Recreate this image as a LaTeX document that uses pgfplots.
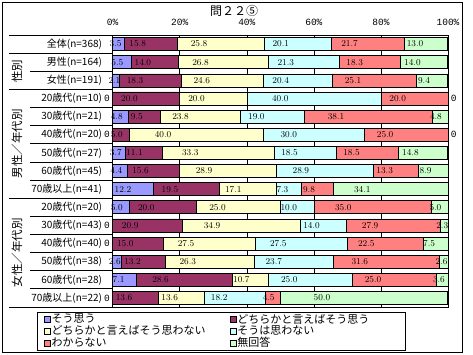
\documentclass[border=0pt]{standalone}
\usepackage{pgfplots}
\pgfplotsset{compat=1.18}
\usepackage{fontspec}
\setmainfont{Noto Sans CJK JP}
\newfontfamily\mono{Liberation Mono}
\definecolor{c1}{HTML}{9999FF}
\definecolor{c2}{HTML}{993366}
\definecolor{c3}{HTML}{FFFFCC}
\definecolor{c4}{HTML}{CCFFFF}
\definecolor{c5}{HTML}{FF8080}
\definecolor{c6}{HTML}{CCFFCC}
\tikzset{zl/.style={inner sep=0pt, font=\mono\fontsize{9.5}{9.5}\selectfont}}
\begin{document}
\begin{tikzpicture}
\path[fill=white] (0pt,0pt) rectangle (473pt,-354pt);
\draw[line width=1pt] (2pt,-2pt) rectangle (462pt,-352pt);
\node[font=\fontsize{12}{12}\selectfont] at (234pt,-11pt) {問２２⑤};
\begin{axis}[
  at={(112.7pt,-307pt)}, anchor=south west,
  scale only axis, width=335.3pt, height=272pt,
  xbar stacked, bar width=13pt,
  xmin=0, xmax=100, ymin=0.5, ymax=15.5, y dir=reverse,
  ytick={1,...,15},
  yticklabels={全体(n=368),男性(n=164),女性(n=191),20歳代(n=10),30歳代(n=21),40歳代(n=20),50歳代(n=27),60歳代(n=45),70歳以上(n=41),20歳代(n=20),30歳代(n=43),40歳代(n=40),50歳代(n=38),60歳代(n=28),70歳以上(n=22)},
  yticklabel style={font=\fontsize{10}{10}\selectfont, anchor=east, inner sep=0pt, xshift=-10.5pt},
  xtick={0,20,40,60,80,100},
  xticklabels={0\%,20\%,40\%,60\%,80\%,100\%},
  xticklabel pos=upper,
  xticklabel style={font=\mono\fontsize{9.5}{9.5}\selectfont, anchor=base, inner sep=0pt, yshift=9.5pt},
  major tick length=0pt,
  xmajorgrids, grid style={black, line width=0.6pt},
  axis line style={black, line width=0.8pt},
  clip=false,
  visualization depends on=rawx \as \rawx,
  nodes near coords={\pgfmathprintnumber[fixed,fixed zerofill,precision=1]{\rawx}},
  every node near coord/.append style={anchor=center, inner sep=0pt, font=\mono\fontsize{9.5}{9.5}\selectfont, text=black, shift={(axis direction cs:-\rawx/4,0)}},
  legend columns=2,
  legend cell align=left,
  legend style={at={(-0.2258,-0.0184)}, anchor=north west, draw=black, line width=0.8pt, inner xsep=7pt, inner ysep=1pt, row sep=0pt, nodes={inner sep=0.6pt}, font=\fontsize{11}{11.5}\selectfont},
  legend image code/.code={\draw[#1,draw=black,line width=0.6pt] (0pt,-3pt) rectangle (6pt,3pt);},
]
\addplot[fill=c1,draw=black,line width=0.6pt] coordinates {(3.5,1) (5.5,2) (2.1,3) (0.0,4) (4.8,5) (0.0,6) (3.7,7) (4.4,8) (12.2,9) (5.0,10) (0.0,11) (0.0,12) (2.6,13) (7.1,14) (0.0,15)};
\addlegendentry{\makebox[178pt][l]{そう思う}}
\addplot[fill=c2,draw=black,line width=0.6pt] coordinates {(15.8,1) (14.0,2) (18.3,3) (20.0,4) (9.5,5) (5.0,6) (11.1,7) (15.6,8) (19.5,9) (20.0,10) (20.9,11) (15.0,12) (13.2,13) (28.6,14) (13.6,15)};
\addlegendentry{\makebox[160pt][l]{どちらかと言えばそう思う}}
\addplot[fill=c3,draw=black,line width=0.6pt] coordinates {(25.8,1) (26.8,2) (24.6,3) (20.0,4) (23.8,5) (40.0,6) (33.3,7) (28.9,8) (17.1,9) (25.0,10) (34.9,11) (27.5,12) (26.3,13) (10.7,14) (13.6,15)};
\addlegendentry{\makebox[178pt][l]{どちらかと言えばそう思わない}}
\addplot[fill=c4,draw=black,line width=0.6pt] coordinates {(20.1,1) (21.3,2) (20.4,3) (40.0,4) (19.0,5) (30.0,6) (18.5,7) (28.9,8) (7.3,9) (10.0,10) (14.0,11) (27.5,12) (23.7,13) (25.0,14) (18.2,15)};
\addlegendentry{\makebox[160pt][l]{そうは思わない}}
\addplot[fill=c5,draw=black,line width=0.6pt] coordinates {(21.7,1) (18.3,2) (25.1,3) (20.0,4) (38.1,5) (25.0,6) (18.5,7) (13.3,8) (9.8,9) (35.0,10) (27.9,11) (22.5,12) (31.6,13) (25.0,14) (4.5,15)};
\addlegendentry{\makebox[178pt][l]{わからない}}
\addplot[fill=c6,draw=black,line width=0.6pt] coordinates {(13.0,1) (14.0,2) (9.4,3) (0.0,4) (4.8,5) (0.0,6) (14.8,7) (8.9,8) (34.1,9) (5.0,10) (2.3,11) (7.5,12) (2.6,13) (3.6,14) (50.0,15)};
\addlegendentry{\makebox[160pt][l]{無回答}}
\node[zl] at (axis cs:0,4) {0.0};
\node[zl] at (axis cs:0,6) {0.0};
\node[zl] at (axis cs:0,11) {0.0};
\node[zl] at (axis cs:0,12) {0.0};
\node[zl] at (axis cs:0,15) {0.0};
\node[zl] at (axis cs:100,4) {0.0};
\node[zl] at (axis cs:100,6) {0.0};
\end{axis}
\begin{scope}[x=1pt,y=-1pt,line width=0.8pt]
\foreach \k in {0,1,3,9,15} {\draw (9,{35+\k*18.133}) -- (112.7,{35+\k*18.133});}
\foreach \k in {2,4,5,6,7,8,10,11,12,13,14} {\draw (30,{35+\k*18.133}) -- (112.7,{35+\k*18.133});}
\node[rotate=90,font=\fontsize{11.5}{11.5}\selectfont] at (17,{35+2*18.133}) {性別};
\node[rotate=90,font=\fontsize{11.5}{11.5}\selectfont] at (17,{35+6*18.133}) {男性／年代別};
\node[rotate=90,font=\fontsize{11.5}{11.5}\selectfont] at (17,{35+12*18.133}) {女性／年代別};
\end{scope}
\end{tikzpicture}
\end{document}
